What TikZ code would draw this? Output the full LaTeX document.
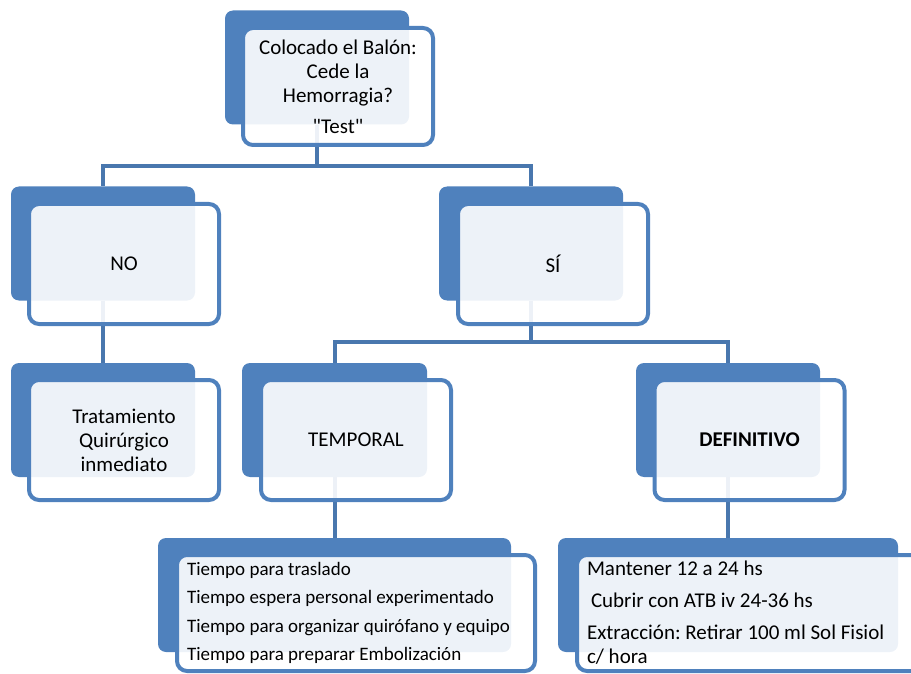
\documentclass[tikz,border=0pt]{standalone}
\usepackage{fontspec}
\newfontfamily\carlito{Carlito}
\definecolor{boxblue}{HTML}{4F81BD}
\colorlet{lineblue}{boxblue!92!black}
\frenchspacing

\begin{document}
\begin{tikzpicture}[x=1pt,y=-1pt,
	back/.style={fill=boxblue,rounded corners=8pt,inner sep=0pt,minimum height=114pt},
	front/.style={draw=boxblue,line width=4pt,fill=white,fill opacity=.9,text opacity=1,rounded corners=10pt,
		minimum width=190pt,minimum height=120pt,align=center,font=\carlito\fontsize{21}{24}\selectfont},
	list/.style={front,minimum height=116pt,align=flush left,inner xsep=10pt},
	conn/.style={draw=lineblue,line width=4pt}]

\useasboundingbox (0,0) rectangle (911,674);
\clip (0,0) rectangle (911,674);

% blue boxes behind
\foreach \n/\x/\y/\w in {top/317/67.5/184, no/103/243.5/184, si/531/243.5/184, trat/103/420/184,
	temp/334.5/420/185, def/728/420/184, listl/334.5/595/353, listr/728/595/340} {
	\node [back,minimum width=\w pt] (b\n) at (\x,\y) {};
}

\draw [conn] (btop.south) -- ++(0,41) -| (bno.north);
\draw [conn] (btop.south) -- ++(0,41) -| (bsi.north);
\draw [conn] (bno.south) -- (btrat.north);
\draw [conn] (bsi.south) -- ++(0,41) -| (btemp.north);
\draw [conn] (bsi.south) -- ++(0,41) -| (bdef.north);
\draw [conn] (btemp.south) -- (blistl.north);
\draw [conn] (bdef.south) -- (blistr.north);

% text boxes in front
\node [front,minimum height=117pt] (ftop) at (338,86.5) {Colocado el Balón:\\Cede la\\Hemorragia?\\[7pt]"Test"};
\node [front] (fno) at (124,264) {NO};
\node [front] (fsi) at (553,264) {SÍ};
\node [front] (ftrat) at (124,440) {Tratamiento\\Quirúrgico\\inmediato};
\node [front] (ftemp) at (356,440) {TEMPORAL};
\node [front,font=\carlito\fontsize{21}{24}\selectfont\bfseries] (fdef) at (749.5,440) {DEFINITIVO};

\node [list,minimum width=358pt,text width=338pt,font=\carlito\fontsize{19}{28.5}\selectfont] (flistl) at (356,613)
	{Tiempo para traslado\\Tiempo espera personal experimentado\\Tiempo para organizar quirófano y equipo\\Tiempo para preparar Embolización};
\node [list,minimum width=346pt,text width=326pt] (flistr) at (750,613)
	{Mantener 12 a 24 hs\\[8pt]\hspace{4pt}Cubrir con ATB iv 24-36 hs\\[8pt]Extracción: Retirar 100 ml Sol Fisiol\\c/ hora};

\end{tikzpicture}
\end{document}
